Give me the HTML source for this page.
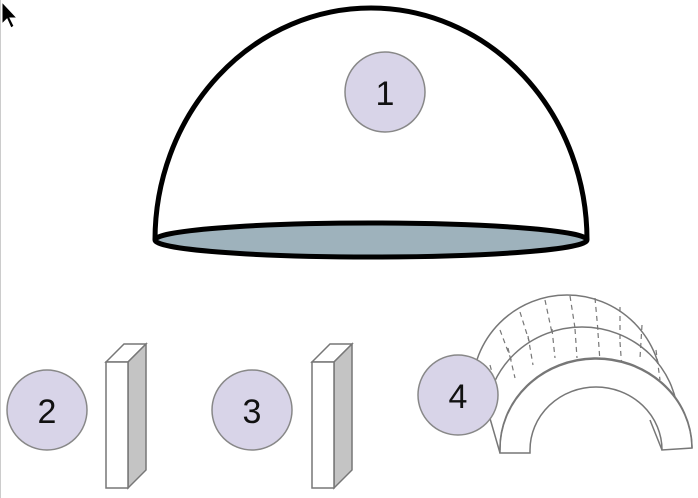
<!DOCTYPE html>
<html><head><meta charset="utf-8"><style>
html,body{margin:0;padding:0;background:#fff}
svg{display:block}
text{font-family:"Liberation Sans",sans-serif;font-size:34px;fill:#111;text-anchor:middle;dominant-baseline:central}
</style></head><body>
<svg width="698" height="498" viewBox="0 0 698 498">
<line x1="0.5" y1="0" x2="0.5" y2="498" stroke="#ccc"/>
<path d="M2,2 L2,24 L7,19 L11,28 L14,26 L10,18 L17,18 Z" fill="#000" stroke="#fff" stroke-width="1"/>
<g>
<path d="M155,240 A216,232 0 0 1 587,240" fill="#fff" stroke="#000" stroke-width="5"/>
<ellipse cx="371" cy="240" rx="216" ry="17" fill="#9eb2bc" stroke="#000" stroke-width="5"/>
</g>
<g><circle cx="385" cy="92" r="40" fill="#d8d4e8" stroke="#888" stroke-width="1.5"/><text x="385" y="94">1</text></g>
<g>
<polygon points="106,362 124,344 146,344 128,362" fill="#fff" stroke="#777" stroke-width="1.5"/>
<polygon points="128,362 146,344 146,470 128,488" fill="#c4c4c4" stroke="#777" stroke-width="1.5"/>
<rect x="106" y="362" width="22" height="126" fill="#fff" stroke="#777" stroke-width="1.5"/>
</g>
<g><circle cx="47" cy="410" r="40" fill="#d8d4e8" stroke="#888" stroke-width="1.5"/><text x="47" y="412">2</text></g>
<g>
<polygon points="312,362 330,344 352,344 334,362" fill="#fff" stroke="#777" stroke-width="1.5"/>
<polygon points="334,362 352,344 352,470 334,488" fill="#c4c4c4" stroke="#777" stroke-width="1.5"/>
<rect x="312" y="362" width="22" height="126" fill="#fff" stroke="#777" stroke-width="1.5"/>
</g>
<g><circle cx="252" cy="410" r="40" fill="#d8d4e8" stroke="#888" stroke-width="1.5"/><text x="252" y="412">3</text></g>
<g stroke="#777" stroke-width="1.5" fill="#fff">
<path d="M476,390 A92,92 0 0 1 660,390 L692,448 L500,453 Z" stroke="none"/>
<path d="M472,390 A95,95 0 0 1 662,390"/>
<path d="M486,420 A96,93 0 0 1 678,420"/>
<line x1="476" y1="370" x2="500" y2="453"/>
<g stroke-dasharray="5,4" fill="none" stroke-width="1.2">
<line x1="500" y1="330" x2="512" y2="362"/><line x1="520" y1="312" x2="530" y2="344"/>
<line x1="545" y1="300" x2="552" y2="333"/><line x1="570" y1="296" x2="575" y2="328"/>
<line x1="595" y1="298" x2="598" y2="331"/><line x1="620" y1="307" x2="620" y2="340"/>
<line x1="642" y1="325" x2="640" y2="358"/><line x1="656" y1="350" x2="660" y2="380"/>
<line x1="490" y1="365" x2="498" y2="395"/><line x1="508" y1="348" x2="515" y2="378"/>
<line x1="528" y1="336" x2="533" y2="365"/><line x1="552" y1="329" x2="555" y2="358"/>
<line x1="575" y1="329" x2="577" y2="358"/><line x1="598" y1="333" x2="600" y2="362"/>
<line x1="620" y1="342" x2="622" y2="370"/>
</g>
<path d="M500,453 L500,450 A96,90 0 0 1 692,446 L692,448 L662,450 A66,63 0 0 0 530,450 L530,453 Z" fill="#fff"/>
<path d="M500,450 A96,90 0 0 1 692,448" fill="none"/>
<line x1="650" y1="420" x2="662" y2="450"/>
</g>
<g><circle cx="458" cy="395" r="40" fill="#d8d4e8" stroke="#888" stroke-width="1.5"/><text x="458" y="397">4</text></g>
</svg>
</body></html>
